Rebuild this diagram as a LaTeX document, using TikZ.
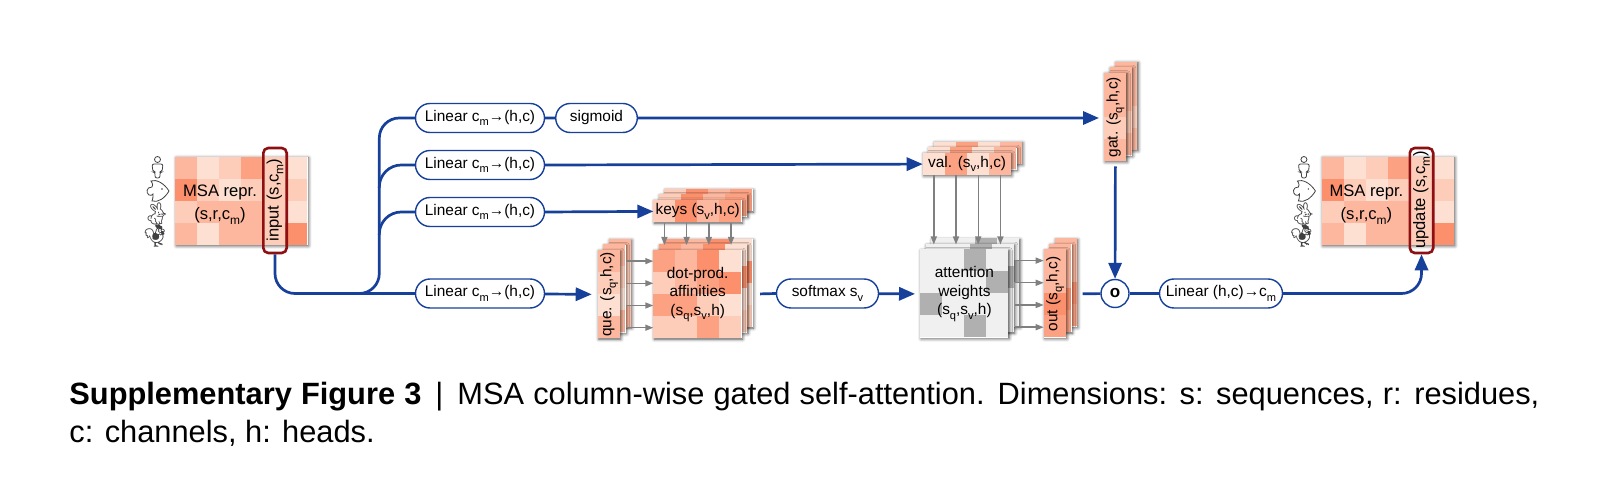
\documentclass[tikz,border=0pt]{standalone}
\usepackage{fontspec}
\usepackage{graphicx}
\setmainfont{Liberation Sans}
\newfontfamily\emojifont{Noto Emoji}
\usetikzlibrary{arrows.meta,calc,shapes.misc,shadows.blur}

\definecolor{pa}{HTML}{FDE0D2}
\definecolor{pb}{HTML}{FDCDB9}
\definecolor{pc}{HTML}{FCB79E}
\definecolor{pd}{HTML}{FCA283}
\definecolor{pe}{HTML}{FC8F6C}
\definecolor{ga}{HTML}{F0F0F0}
\definecolor{gb}{HTML}{B0B0B0}
\definecolor{flowblue}{HTML}{17409A}
\definecolor{boxred}{HTML}{8E0F12}

\tikzset{
  base/.style={font=\fontsize{7.7}{9.25}\selectfont, align=center, inner sep=0pt},
  big/.style={font=\fontsize{8.3}{11.5}\selectfont, align=center, inner sep=0pt},
  pill/.style={base, rounded rectangle, draw=flowblue, line width=0.7pt, fill=white,
    minimum height=14.5pt},
  flow/.style={draw=flowblue, line width=1.35pt},
  flowarrow/.style={flow, -{Triangle[length=8pt,width=6.6pt]}},
  feed/.style={draw=black!50, line width=0.7pt, -{Triangle[length=4pt,width=3pt]}},
  sheet/.style={anchor=north west, inner sep=0pt, fill=white,
    blur shadow={shadow xshift=0.4pt, shadow yshift=-0.4pt, shadow blur radius=1.6pt, shadow opacity=70}},
  select/.style={draw=boxred, line width=1.3pt, rounded corners=2.5pt, inner sep=0pt,
    minimum width=11.7pt, minimum height=52.5pt},
  side/.style={base, rotate=90},
  iconline/.style={draw=black!75, line width=0.4pt},
  icon/.style={inner sep=0pt, font=\emojifont\fontsize{11}{11}\selectfont, text=black!75}
}

\newcommand{\sbs}[1]{\raisebox{-0.55ex}{\scalebox{.72}{#1}}}

% one heat map, cell by cell
\newcommand{\heatmap}[6]{
  \node[sheet, minimum width=#4*11pt, minimum height=#5*11pt] (#1) at (#2,#3) {};
  \foreach \c [count=\n from 0] in {#6} {
    \pgfmathtruncatemacro\cx{mod(\n,#4)}
    \pgfmathtruncatemacro\cy{\n/#4}
    \fill[fill=\c] ({#2+22*\cx},{#3+22*\cy}) rectangle +(22,22);
  }
}
\newcommand{\stack}[6]{
  \heatmap{#1c}{#2+11}{#3-11}{#4}{#5}{#6}
  \heatmap{#1b}{#2+5.5}{#3-5.5}{#4}{#5}{#6}
  \heatmap{#1}{#2}{#3}{#4}{#5}{#6}
}
% person and fish as outlines, rabbit and hen from the emoji font
\newcommand{\species}[2]{
  \begin{scope}[shift={(#2,0)}]
    \draw[iconline] (157.5,159.5) circle[radius=3];
    \draw[iconline, rounded corners=1pt] (153,172) -- (152,164) -- (163,164) -- (162,172)
      -- (160,172) -- (160,178) -- (155,178) -- (155,172) -- cycle;
    \draw[iconline] (169,191) .. controls (164,183) and (156,179) .. (151,181)
      .. controls (153,184) and (153,186) .. (152,187)
      .. controls (146,187) and (146,193) .. (149,195)
      .. controls (151,196) and (152,195) .. (153,194)
      .. controls (153,197) and (153,199) .. (152,201)
      .. controls (158,203) and (165,198) .. (169,191) -- cycle;
    \fill[black!75] (162,189) circle[radius=0.8];
  \end{scope}
  \node[icon, xscale=-1] (#1rabbit) at (#2+157,214) {\char"1F407};
  \node[icon, xscale=-1] (#1hen) at (#2+155,236) {\char"1F413};
}

\begin{document}
\begin{tikzpicture}[x=0.5pt, y=-0.5pt]
  \useasboundingbox (0,0) rectangle (1604,480);

  % MSA representation, left
  \species{l}{0}
  \heatmap{msa}{175.3}{156.7}{6}{4}{pc,pa,pb,pd,pb,pa, pe,pb,pa,pb,pb,pb, pb,pc,pc,pc,pb,pa, pc,pa,pc,pc,pb,pe}
  \node[big] (msalab) at (220,205) {MSA repr.\\(s,r,c\sbs{m})};
  \node[select] (input) at (275,200.5) {};
  \node[big, rotate=90] (inputlab) at (275,200) {input (s,c\sbs{m})};

  % the four projections
  \node[pill, minimum width=64.5pt] (lin1) at (480,118) {Linear c\sbs{m}→(h,c)};
  \node[pill, minimum width=64.5pt] (lin2) at (480,165) {Linear c\sbs{m}→(h,c)};
  \node[pill, minimum width=64.5pt] (lin3) at (480,212) {Linear c\sbs{m}→(h,c)};
  \node[pill, minimum width=64.5pt] (lin4) at (480,293.5) {Linear c\sbs{m}→(h,c)};
  \node[pill, minimum width=40.8pt] (sig) at (596.5,118) {sigmoid};

  \coordinate (split) at (345,293.5);
  \coordinate (trunk) at (379.3,293.5);
  \coordinate (fork2) at (379.3,188);
  \coordinate (fork3) at (379.3,235);

  \draw[flow, rounded corners=10pt] (input.south) |- (lin4.west);
  \draw[flow, rounded corners=10pt] (split) -| (trunk |- lin1.west) -- (lin1.west);
  \draw[flow, rounded corners=11pt] (fork2) |- (lin2.west);
  \draw[flow, rounded corners=11pt] (fork3) |- (lin3.west);

  % keys, queries, affinities
  \stack{keys}{653.3}{200}{4}{1}{pb,pe,pc,pd}
  \node[base] (keyslab) at (keys) {keys (s\sbs{v},h,c)};
  \stack{que}{597.7}{250}{1}{4}{pc,pb,pa,pc}
  \node[side] (quelab) at (que) {que. (s\sbs{q},h,c)};
  \stack{aff}{653.3}{250}{4}{4}{pd,pc,pe,pa, pb,pc,pd,pe, pd,pd,pb,pa, pb,pb,pd,pb}
  \node[base] (afflab) at (aff) {dot-prod.\\affinities\\(s\sbs{q},s\sbs{v},h)};

  \node[pill, minimum width=51pt] (soft) at (827.5,293.5) {softmax s\sbs{v}};

  % values, weights, output
  \stack{val}{922.7}{152.7}{4}{1}{pa,pd,pa,pc}
  \node[base] (vallab) at (val) {val. (s\sbs{v},h,c)};
  \stack{att}{920}{249.5}{4}{4}{ga,ga,gb,ga, ga,ga,ga,gb, gb,ga,ga,ga, ga,ga,gb,ga}
  \node[base] (attlab) at (att) {attention\\weights\\(s\sbs{q},s\sbs{v},h)};
  \stack{out}{1043.7}{249.5}{1}{4}{pc,pc,pe,pd}
  \node[side] (outlab) at (out) {out (s\sbs{q},h,c)};

  % gate
  \stack{gat}{1104}{72.7}{1}{4}{pc,pc,pb,pc}
  \node[side] (gatlab) at (gat) {gat. (s\sbs{q},h,c)};
  \node[pill, circle, minimum size=14pt, font=\fontsize{8.5}{8.5}\selectfont\bfseries] (dot) at (1115,293.5) {o};
  \node[pill, minimum width=61.5pt] (linout) at (1221,293.5) {Linear (h,c)→c\sbs{m}};

  % MSA representation, right
  \species{r}{1146.4}
  \heatmap{upd}{1321.7}{156.7}{6}{4}{pc,pa,pb,pd,pb,pa, pe,pb,pa,pb,pb,pb, pb,pc,pc,pc,pb,pa, pc,pa,pc,pc,pb,pe}
  \node[big] (updlab) at (1366.4,205) {MSA repr.\\(s,r,c\sbs{m})};
  \node[select] (update) at (1421.5,200.5) {};
  \node[big, rotate=90] (updatelab) at (1421.5,200) {update (s,c\sbs{m})};

  % connectors
  \draw[flow] (lin1) -- (sig);
  \draw[flowarrow, shorten >=2.5pt] (sig) -- (gat.west |- sig);
  \draw[flowarrow] (lin2.east) -- (val.west);
  \draw[flowarrow] (lin3.east) -- (keys.west);
  \draw[flowarrow, shorten >=3pt] (lin4) -- (que.west);
  \draw[flow, shorten <=9pt] (aff.east) -- (soft.west);
  \draw[flowarrow, shorten >=2.5pt] (soft) -- (att.west);
  \draw[flow, shorten <=8pt] (out.east) -- (dot);
  \draw[flowarrow, shorten <=2.5pt] (gat.south) -- (dot);
  \draw[flow] (dot) -- (linout);
  \draw[flowarrow, rounded corners=10pt] (linout.east) -| (update.south);

  \foreach \p [count=\i] in {0.125,0.375,0.625,0.875} {
    \coordinate (k\i) at ($(keys.south west)!\p!(keys.south east)$);
    \coordinate (v\i) at ($(val.south west)!\p!(val.south east)$);
    \coordinate (a\i) at ($(aff.north west)!\p!(aff.south west)$);
    \coordinate (b\i) at ($(att.north west)!\p!(att.south west)$);
    \draw[feed, shorten >=2.5pt] (k\i) -- (k\i |- aff.north);
    \draw[feed, shorten >=2.5pt] (v\i) -- (v\i |- att.north);
    \draw[feed, shorten <=2.5pt] (que.east |- a\i) -- (a\i);
    \draw[feed, shorten <=3pt] (att.east |- b\i) -- (out.west |- b\i);
  }

  % caption
  \node[anchor=north west, inner sep=0pt, text width=735pt, align=justify,
    font=\fontsize{15.4}{18.85}\selectfont] (caption) at (69,382)
    {\textbf{Supplementary Figure 3}\hspace{7pt}|\hspace{7pt}MSA column-wise gated self-attention. Dimensions: s: sequences, r: residues,\linebreak c: channels, h: heads.};
\end{tikzpicture}
\end{document}
